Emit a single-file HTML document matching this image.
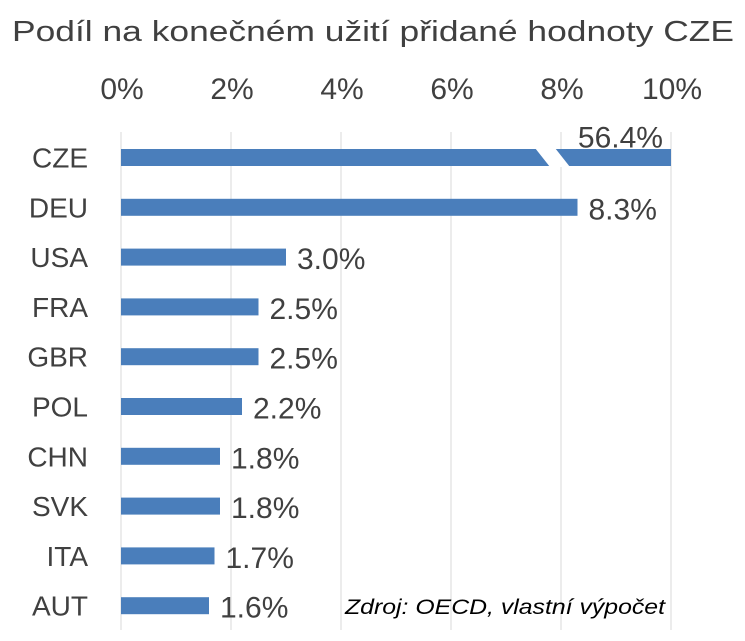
<!DOCTYPE html>
<html><head><meta charset="utf-8"><style>
html,body{margin:0;padding:0;background:#fff;}
svg{display:block;font-family:"Liberation Sans",sans-serif;}
</style></head><body>
<svg id="chart" width="745" height="641" viewBox="0 0 745 641">
<text x="12" y="41" font-size="29" textLength="722" lengthAdjust="spacingAndGlyphs" fill="#404040">Podíl na konečném užití přidané hodnoty CZE</text>
<g id="grid"></g><g id="ticks"></g><g id="bars"></g><g id="cats"></g><g id="vals"></g>
<text x="345" y="614" font-size="21" font-style="italic" textLength="320" lengthAdjust="spacingAndGlyphs" fill="#000">Zdroj: OECD, vlastní výpočet</text>
</svg>
<script>
const categories=["CZE","DEU","USA","FRA","GBR","POL","CHN","SVK","ITA","AUT"];
const values=[56.4,8.3,3.0,2.5,2.5,2.2,1.8,1.8,1.7,1.6];
const valueLabels=["56.4%","8.3%","3.0%","2.5%","2.5%","2.2%","1.8%","1.8%","1.7%","1.6%"];
const tickValues=[0,2,4,6,8,10];
const tickLabels=["0%","2%","4%","6%","8%","10%"];
const axisMax=10;
const NS="http://www.w3.org/2000/svg";
const x0=121,x1=671,yTop=132,yBot=630,rowH=49.8,firstY=157.5,barH=17;
function xs(v){return x0+(Math.min(v,axisMax)/axisMax)*(x1-x0);}
function ys(i){return firstY+i*rowH;}
function mk(t,a,p){const e=document.createElementNS(NS,t);for(const k in a)e.setAttribute(k,a[k]);p.appendChild(e);return e;}
const G=document.getElementById('grid'),T=document.getElementById('ticks'),B=document.getElementById('bars'),C=document.getElementById('cats'),V=document.getElementById('vals');
tickValues.forEach((t,i)=>{
  const l=mk('line',{x1:xs(t),x2:xs(t),y1:yTop,y2:yBot,stroke:'#d9d9d9','stroke-width':1},G);
  
  
  const tx=mk('text',{x:xs(t)+1,y:99,'text-anchor':'middle','font-size':30,fill:'#404040'},T);
  tx.textContent=tickLabels[i];
  
  
});
categories.forEach((c,i)=>{
  const y=ys(i),v=values[i],xe=xs(v);
  const r=mk('rect',{x:x0,y:y-barH/2,width:xe-x0,height:barH,fill:'#4a7ebb'},B);
  
  
  const ct=mk('text',{x:88,y:y+10,'text-anchor':'end','font-size':28,fill:'#404040'},C);
  ct.textContent=c;
  
  
  const vt=mk('text',{'font-size':30,fill:'#404040'},V);
  vt.textContent=valueLabels[i];
  if(v>axisMax){
    const p=mk('polygon',{points:`${xe-136},${y-barH/2-1} ${xe-116},${y-barH/2-1} ${xe-101},${y+barH/2+1} ${xe-121},${y+barH/2+1}`,fill:'#fff'},B);
    
    
    vt.setAttribute('x',xe-8);vt.setAttribute('y',y-10);vt.setAttribute('text-anchor','end');
  } else {
    vt.setAttribute('x',xe+11);vt.setAttribute('y',y+12);
  }
  
  
});
const ax=mk('line',{x1:x0,x2:x0,y1:yTop,y2:yBot,stroke:'#d9d9d9','stroke-width':1},G);


</script>
</body></html>
